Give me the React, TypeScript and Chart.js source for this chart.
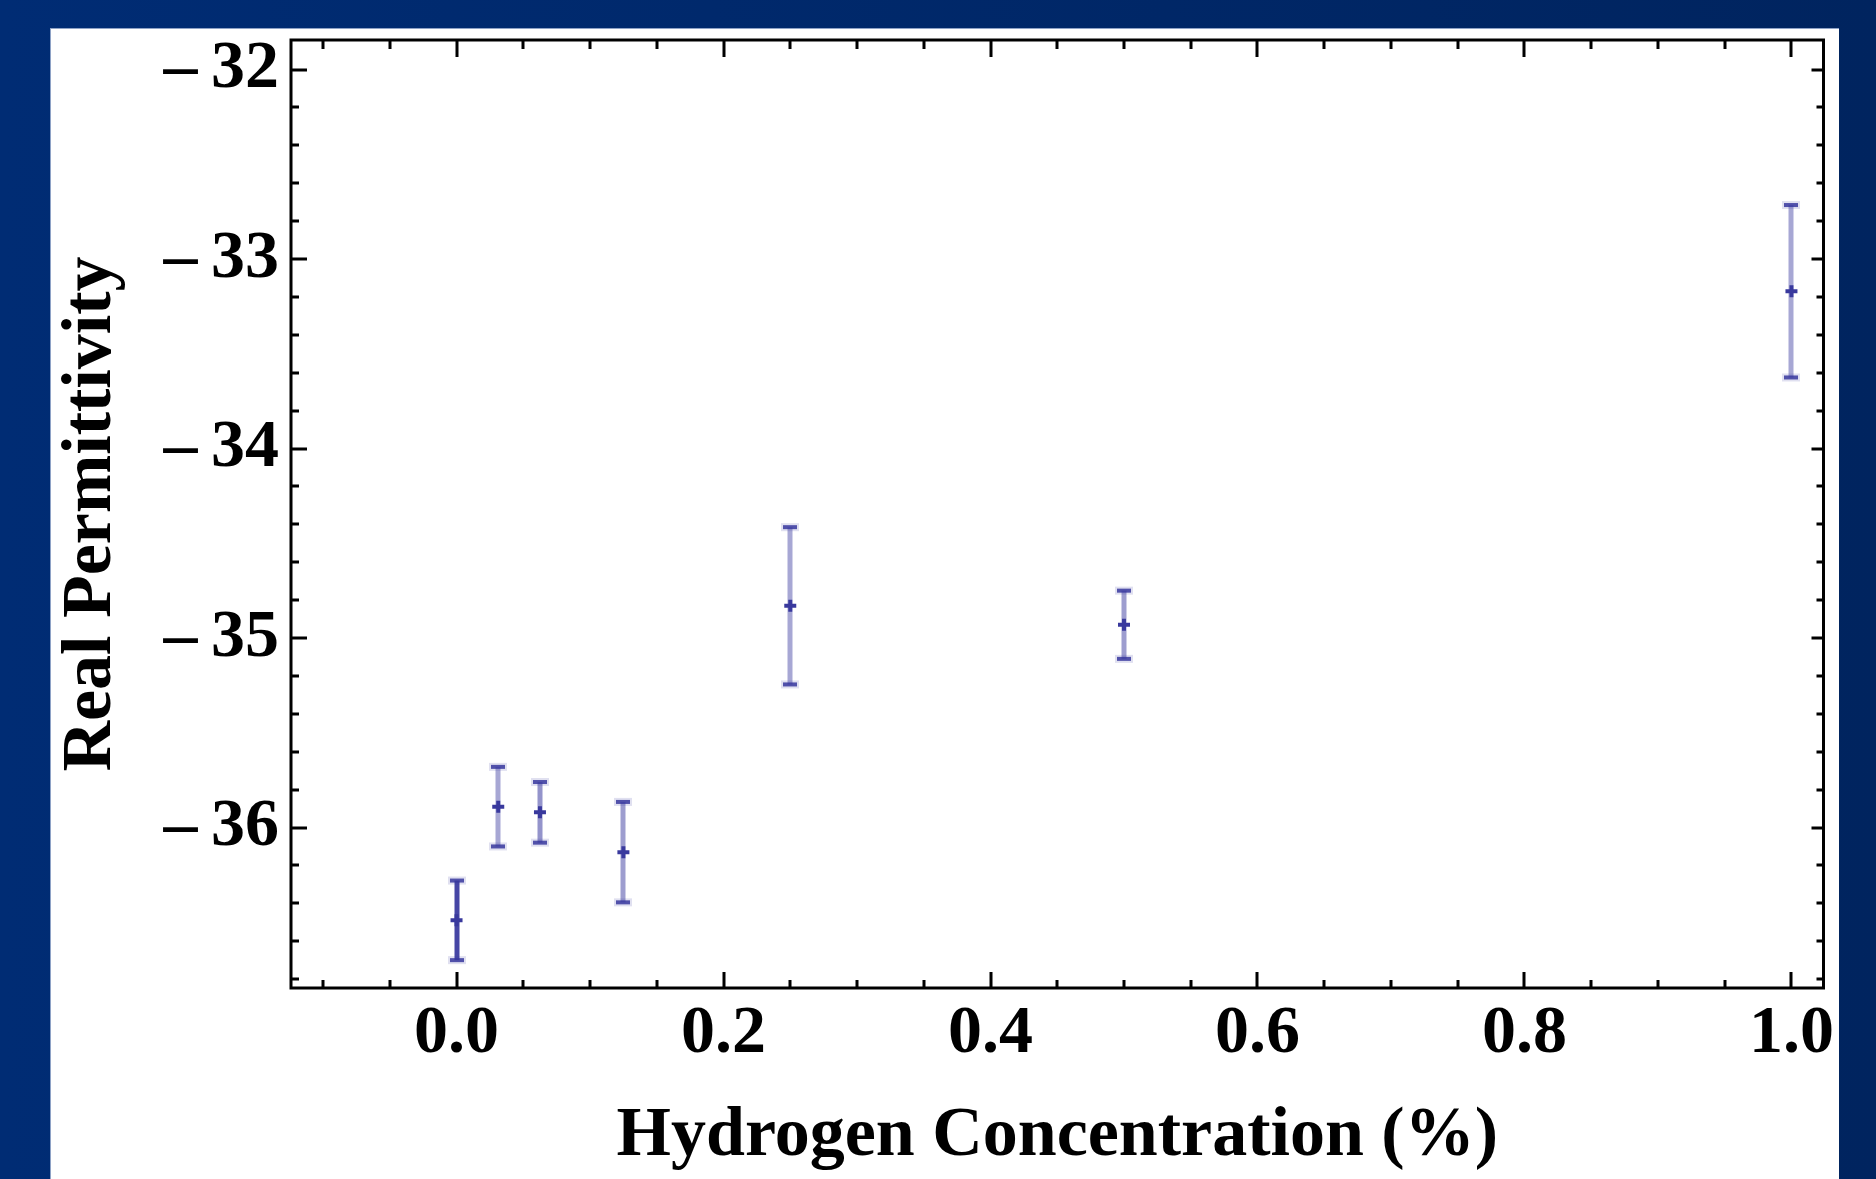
import React, { useEffect, useRef } from "react";
import { Chart, registerables } from "chart.js";

Chart.register(...registerables);

// Measured real permittivity versus hydrogen concentration, with uncertainties
const concentration = [0, 0.03125, 0.0625, 0.125, 0.25, 0.5, 1.0];
const permittivity = [-36.49, -35.89, -35.92, -36.13, -34.83, -34.93, -33.17];
const uncertainty = [0.21, 0.21, 0.16, 0.265, 0.415, 0.18, 0.455];

const xTitle = "Hydrogen Concentration (%)";
const yTitle = "Real Permittivity";

// Axis windows and tick spacing (labels every 0.2 on x, every 1 on y)
const xRange = [-0.124, 1.024];
const yRange = [-36.847, -31.844];
const xMinorStep = 0.05;
const xLabelEvery = 0.2;
const yMinorStep = 0.2;
const yLabelEvery = 1;

const W = 1876;
const H = 1179;

const SERIF = "'Liberation Serif', 'Times New Roman', serif";

// Opacity of each error-bar stem
const stemOpacity = [0.95, 0.45, 0.55, 0.5, 0.45, 0.5, 0.45];

const isMultiple = (v: number, step: number) =>
  Math.abs(v / step - Math.round(v / step)) < 1e-6;

const pageBackground = {
  id: "pageBackground",
  beforeDraw(chart: any) {
    const { ctx, width, height } = chart;
    ctx.save();
    const g = ctx.createLinearGradient(0, 0, width, 0);
    g.addColorStop(0, "#002c74");
    g.addColorStop(1, "#00245f");
    ctx.fillStyle = g;
    ctx.fillRect(0, 0, width, height);
    ctx.fillStyle = "#ffffff";
    ctx.fillRect(50, 28, 1789, height - 28);
    ctx.fillStyle = "#8ea2c6";
    ctx.fillRect(50, 28, 1789, 1);
    ctx.fillRect(50, 28, 1, height - 28);
    ctx.restore();
  },
};

const errorBars = {
  id: "errorBars",
  beforeDatasetsDraw(chart: any) {
    const { ctx } = chart;
    const xs = chart.scales.x;
    const ys = chart.scales.y;
    ctx.save();
    concentration.forEach((c, i) => {
      const px = Math.round(xs.getPixelForValue(c));
      const top = ys.getPixelForValue(permittivity[i] + uncertainty[i]);
      const bot = ys.getPixelForValue(permittivity[i] - uncertainty[i]);
      ctx.strokeStyle = `rgba(60,60,160,${stemOpacity[i]})`;
      ctx.lineWidth = 5;
      ctx.lineCap = "butt";
      ctx.beginPath();
      ctx.moveTo(px, top);
      ctx.lineTo(px, bot);
      ctx.stroke();
      // soft halo and solid caps
      ctx.fillStyle = "rgba(60,60,160,0.16)";
      ctx.fillRect(px - 9, top - 4, 18, 8);
      ctx.fillRect(px - 9, bot - 4, 18, 8);
      ctx.fillStyle = "rgba(55,55,158,0.85)";
      ctx.fillRect(px - 7, top - 2, 14, 4);
      ctx.fillRect(px - 7, bot - 2, 14, 4);
    });
    ctx.restore();
  },
};

const frameAndTicks = {
  id: "frameAndTicks",
  afterDraw(chart: any) {
    const { ctx, chartArea: a } = chart;
    const xs = chart.scales.x;
    const ys = chart.scales.y;
    ctx.save();
    ctx.strokeStyle = "#000";
    ctx.lineWidth = 3;
    ctx.lineCap = "butt";
    ctx.beginPath();
    xs.ticks.forEach((t: any) => {
      const px = Math.round(xs.getPixelForValue(t.value));
      const major = isMultiple(t.value, xLabelEvery);
      ctx.moveTo(px, a.bottom);
      ctx.lineTo(px, a.bottom - (major ? 16 : 8));
      ctx.moveTo(px, a.top);
      ctx.lineTo(px, a.top + (major ? 17 : 9));
    });
    ys.ticks.forEach((t: any) => {
      const py = Math.round(ys.getPixelForValue(t.value));
      const major = isMultiple(t.value, yLabelEvery);
      ctx.moveTo(a.left, py);
      ctx.lineTo(a.left + (major ? 16 : 8), py);
      ctx.moveTo(a.right, py);
      ctx.lineTo(a.right - (major ? 12 : 7), py);
    });
    ctx.stroke();
    ctx.strokeRect(a.left, a.top, a.right - a.left, a.bottom - a.top);
    ctx.restore();
  },
};

const clearScalePadding = (s: any) => {
  s.paddingTop = 0;
  s.paddingBottom = 0;
  s.paddingLeft = 0;
  s.paddingRight = 0;
};

export default function App() {
  const canvasRef = useRef<HTMLCanvasElement | null>(null);

  useEffect(() => {
    const canvas = canvasRef.current;
    if (!canvas) return;
    const tickFont = { family: SERIF, weight: "bold" as const, size: 68 };
    const titleFont = { family: SERIF, weight: "bold" as const, size: 70 };

    const chart = new Chart(canvas, {
      type: "scatter",
      data: {
        datasets: [
          {
            data: concentration.map((c, i) => ({ x: c, y: permittivity[i] })),
            pointStyle: "cross",
            pointRadius: 6,
            pointHoverRadius: 6,
            pointBorderWidth: 4,
            pointBorderColor: "#39399d",
            pointBackgroundColor: "#39399d",
            showLine: false,
          },
        ],
      },
      options: {
        animation: false,
        responsive: false,
        devicePixelRatio: 1,
        events: [],
        layout: { padding: { left: 0, top: 40, right: 52.5, bottom: 0 } },
        plugins: {
          legend: { display: false },
          tooltip: { enabled: false },
        },
        scales: {
          x: {
            type: "linear",
            min: xRange[0],
            max: xRange[1],
            grid: { display: false, drawTicks: false },
            border: { display: false },
            ticks: {
              stepSize: xMinorStep,
              includeBounds: false,
              autoSkip: false,
              maxRotation: 0,
              minRotation: 0,
              padding: 6,
              color: "#000",
              font: tickFont,
              callback: (v: any) =>
                isMultiple(Number(v), xLabelEvery) ? Number(v).toFixed(1) : "",
            },
            title: {
              display: true,
              text: xTitle,
              color: "#000",
              font: titleFont,
              padding: { top: 0, bottom: 0 },
            },
            afterFit: (s: any) => {
              s.height = 191;
              clearScalePadding(s);
            },
          },
          y: {
            type: "linear",
            min: yRange[0],
            max: yRange[1],
            grid: { display: false, drawTicks: false },
            border: { display: false },
            ticks: {
              stepSize: yMinorStep,
              includeBounds: false,
              autoSkip: false,
              padding: 12,
              color: "#000",
              font: tickFont,
              callback: (v: any) => {
                const n = Number(v);
                if (!isMultiple(n, yLabelEvery)) return "";
                const r = Math.round(n);
                return (r < 0 ? "\u2013\u2009" : "") + Math.abs(r);
              },
            },
            title: {
              display: true,
              text: yTitle,
              color: "#000",
              font: titleFont,
              padding: { top: 50, bottom: 0 },
            },
            afterFit: (s: any) => {
              s.width = 291;
              clearScalePadding(s);
            },
          },
        },
      },
      plugins: [pageBackground, errorBars, frameAndTicks],
    });

    return () => chart.destroy();
  }, []);

  return (
    <div style={{ position: "fixed", left: 0, top: 0, width: W, height: H }}>
      <canvas ref={canvasRef} width={W} height={H} style={{ display: "block", width: W, height: H }} />
    </div>
  );
}
